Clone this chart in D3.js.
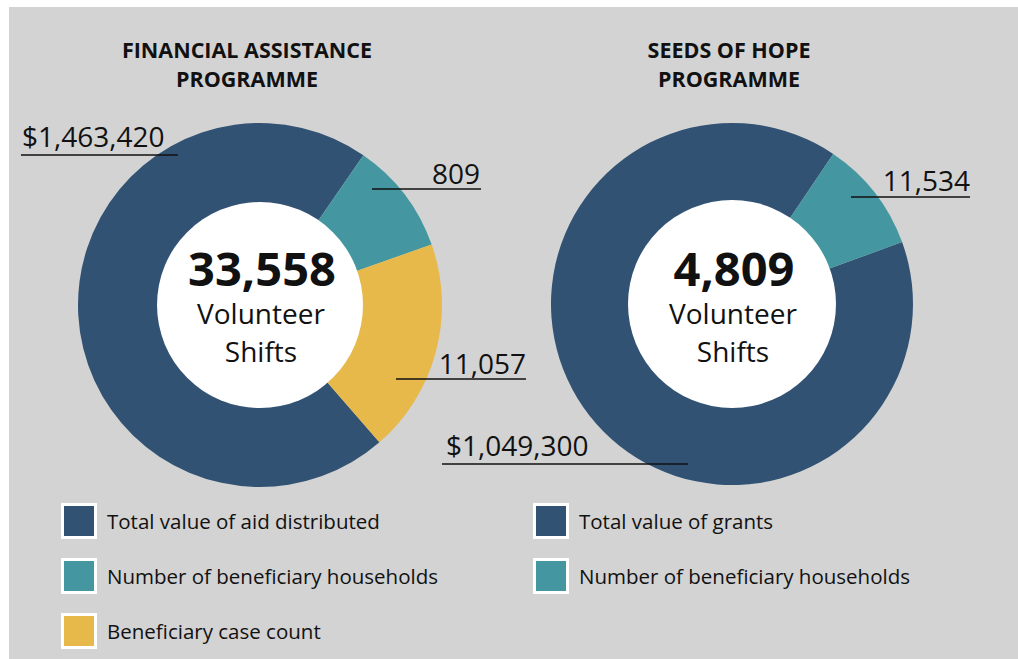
<!DOCTYPE html>
<html>
<head>
<meta charset="utf-8">
<script src="https://cdn.jsdelivr.net/npm/d3@7"></script>
<style>
  html, body { margin: 0; padding: 0; background: #fff; }
  svg { display: block; }
  text { font-family: "Open Sans", "Noto Sans", sans-serif; fill: #111; }
</style>
</head>
<body>
<svg id="chart" width="1018" height="659"></svg>
<script>
// ---- data ----
const programmes = ["FINANCIAL ASSISTANCE|PROGRAMME", "SEEDS OF HOPE|PROGRAMME"];
const volunteerShifts = ["33,558", "4,809"];

const faCategories = ["Total value of aid distributed", "Number of beneficiary households", "Beneficiary case count"];
const faLabels = ["$1,463,420", "809", "11,057"];
const faShares = [71, 10, 19];      // arc share (%) as drawn in the picture

const shCategories = ["Total value of grants", "Number of beneficiary households"];
const shLabels = ["$1,049,300", "11,534"];
const shShares = [90, 10];

const colors = ["#315273", "#4497a0", "#e7b94a"];

// ---- layout ----
const svg = d3.select("#chart");
svg.append("rect").attr("x", 9).attr("y", 7).attr("width", 1009).attr("height", 652).attr("fill", "#d3d3d3");

const deg = Math.PI / 180;
const charts = [
  { cx: 260, cy: 305, r: 182, inner: 103, start: 139, titleX: 247,
    cats: faCategories, labels: faLabels, shares: faShares, legendX: 61,
    // label text anchor / baseline and leader line span
    lab: [
      { x: 22, y: 147, anchor: "start", x1: 21, x2: 178, ly: 155 },
      { x: 480, y: 184, anchor: "end", x1: 372, x2: 481, ly: 189 },
      { x: 526, y: 374, anchor: "end", x1: 396, x2: 526, ly: 379 }
    ] },
  { cx: 732, cy: 304, r: 181, inner: 104, start: 70, titleX: 729,
    cats: shCategories, labels: shLabels, shares: shShares, legendX: 533,
    lab: [
      { x: 446, y: 456, anchor: "start", x1: 442, x2: 688, ly: 464 },
      { x: 970, y: 191, anchor: "end", x1: 851, x2: 970, ly: 197 }
    ] }
];

charts.forEach((c, i) => {
  const g = svg.append("g");

  // title
  const t = g.append("text").attr("x", c.titleX).attr("y", 58)
    .attr("text-anchor", "middle").attr("font-weight", 700).attr("font-size", 21.5);
  programmes[i].split("|").forEach((line, k) => {
    t.append("tspan").attr("x", c.titleX).attr("dy", k === 0 ? 0 : 29).text(line);
  });

  // donut
  const pie = d3.pie().sort(null)
    .startAngle(c.start * deg).endAngle(c.start * deg + 2 * Math.PI);
  const arc = d3.arc().innerRadius(0).outerRadius(c.r);
  g.append("g").attr("transform", `translate(${c.cx},${c.cy})`)
    .selectAll("path").data(pie(c.shares)).enter()
    .append("path").attr("d", arc).attr("fill", (d, k) => colors[k]);

  g.append("circle").attr("cx", c.cx).attr("cy", c.cy).attr("r", c.inner).attr("fill", "#fff");

  // centre text
  g.append("text").attr("x", c.cx + 2).attr("y", 286).attr("text-anchor", "middle")
    .attr("font-weight", 700).attr("font-size", 47).text(volunteerShifts[i]);
  g.append("text").attr("x", c.cx + 1).attr("y", 324).attr("text-anchor", "middle")
    .attr("font-size", 28).text("Volunteer");
  g.append("text").attr("x", c.cx + 1).attr("y", 362).attr("text-anchor", "middle")
    .attr("font-size", 28).text("Shifts");

  // value labels with leader lines
  c.labels.forEach((lbl, k) => {
    const p = c.lab[k];
    g.append("line").attr("x1", p.x1).attr("x2", p.x2).attr("y1", p.ly).attr("y2", p.ly)
      .attr("stroke", "#111").attr("stroke-width", 1.5);
    g.append("text").attr("x", p.x).attr("y", p.y).attr("text-anchor", p.anchor)
      .attr("font-size", 28).text(lbl);
  });

  // legend
  const leg = g.append("g").selectAll("g").data(c.cats).enter().append("g")
    .attr("transform", (d, k) => `translate(${c.legendX},${503 + k * 55})`);
  leg.append("rect").attr("x", 1.5).attr("y", 1.5).attr("width", 33).attr("height", 33)
    .attr("fill", (d, k) => colors[k]).attr("stroke", "#fff").attr("stroke-width", 3);
  leg.append("text").attr("x", 46).attr("y", 26).attr("font-size", 20.5)
    .attr("fill", "#222").text(d => d);
});
</script>
</body>
</html>
